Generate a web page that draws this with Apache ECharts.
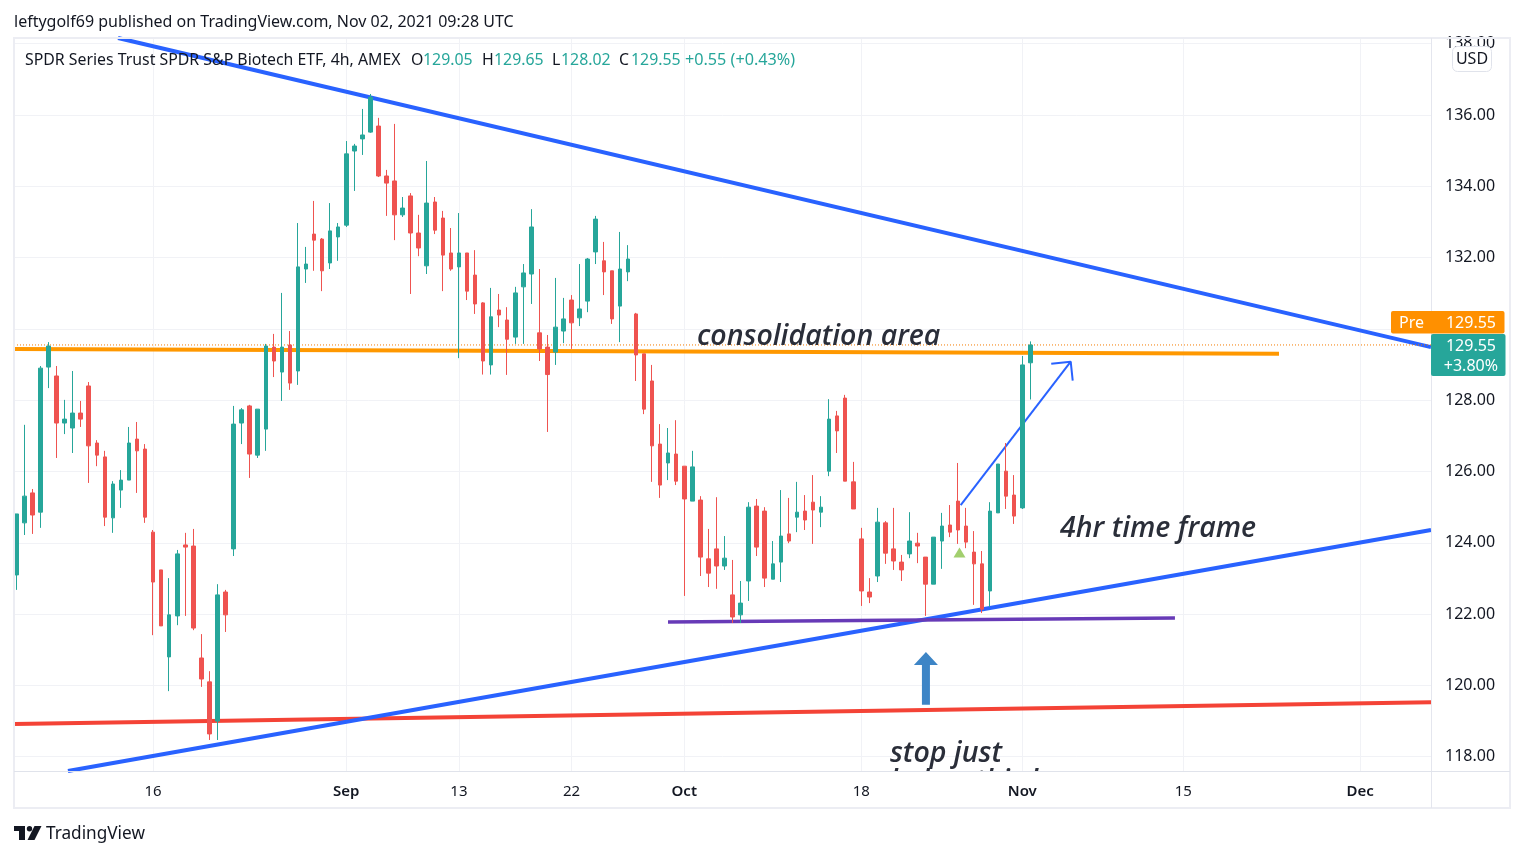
<!DOCTYPE html>
<html>
<head>
<meta charset="utf-8">
<title>XBI 4h</title>
<script src="https://cdn.jsdelivr.net/npm/echarts@6/dist/echarts.min.js"></script>
<style>
	html,body{margin:0;padding:0;background:#fff;}
	#chart{width:1524px;height:857px;}
</style>
</head>
<body>
<div id="chart"></div>
<script>
//candles
var opens = [123.10,124.56,125.40,124.86,128.93,128.68,127.36,127.22,127.64,128.40,126.80,126.41,124.70,125.48,125.76,126.91,126.63,124.30,123.24,120.80,121.95,123.94,123.91,120.77,120.10,119.00,122.62,123.83,127.36,127.84,126.46,127.19,
	129.49,128.79,129.55,128.82,131.68,132.66,132.52,131.85,132.58,132.91,134.99,135.33,135.52,135.69,134.29,134.15,133.20,133.73,132.69,131.77,133.56,133.11,132.13,131.74,132.13,131.51,130.73,128.99,130.53,130.25,129.77,131.18,131.54,
	129.89,129.49,129.35,129.94,130.81,130.31,130.78,132.16,131.91,131.63,130.64,131.60,130.42,129.30,128.54,126.77,126.24,126.49,126.15,125.17,125.20,123.55,123.83,123.35,122.54,121.98,122.93,125.03,124.89,122.98,123.46,124.25,124.72,
	124.89,125.14,124.86,126.01,127.56,128.06,125.71,124.11,122.62,123.07,124.56,123.83,123.46,123.69,123.99,123.60,122.84,124.05,124.50,125.17,124.47,123.74,123.41,122.65,124.84,126.01,125.34,124.98,129.05];
var closes = [124.81,125.31,124.78,128.90,129.52,127.36,127.47,127.64,127.47,126.72,126.46,124.72,125.65,125.76,126.80,126.58,124.72,122.90,121.67,121.98,123.69,123.88,121.61,120.18,118.64,122.54,121.98,127.33,127.73,126.49,127.75,129.52,
	129.10,129.49,128.48,131.74,131.82,132.49,131.63,132.75,132.86,134.91,135.13,135.44,136.50,134.29,134.09,133.20,133.39,132.69,132.27,133.53,132.77,132.07,131.68,132.13,131.06,130.70,129.10,130.34,130.39,129.71,131.01,131.57,132.86,
	129.44,128.72,130.05,130.28,130.17,130.56,131.96,133.08,131.60,130.28,131.68,131.96,129.27,127.75,126.72,125.62,126.52,125.73,125.23,126.13,123.60,123.15,123.35,123.57,121.92,122.31,125.00,123.88,123.01,123.41,124.19,124.05,124.86,
	124.64,124.92,125.00,127.47,127.14,125.73,124.95,122.65,122.48,124.58,123.71,123.49,123.24,124.05,123.91,122.84,124.16,124.47,124.30,124.36,124.02,123.41,122.14,124.89,126.21,125.31,124.75,128.99,129.55];
var lows = [122.68,124.22,124.25,124.42,128.34,126.38,127.05,126.52,127.25,125.68,126.15,124.47,124.28,124.98,125.76,125.40,124.56,121.41,121.67,119.84,121.69,121.95,121.55,119.96,118.47,118.47,121.50,123.63,126.77,125.82,126.38,126.58,
	128.65,127.98,128.29,128.43,131.29,131.63,131.06,131.68,131.91,132.86,133.87,134.88,135.50,134.26,133.17,132.49,133.14,130.98,132.04,131.54,132.66,131.06,131.63,129.18,130.81,130.42,128.72,128.72,130.05,128.71,129.58,129.58,130.70,
	129.10,127.11,128.99,129.60,129.44,130.08,130.47,131.82,130.95,130.14,129.63,131.34,128.54,127.61,125.71,125.26,125.76,125.62,122.51,125.17,123.07,122.76,122.71,123.24,121.75,121.75,122.37,123.63,122.76,122.98,122.90,123.99,124.30,
	124.36,123.97,124.44,125.87,126.52,125.73,124.95,122.23,122.31,122.90,123.41,123.24,122.93,123.57,123.43,121.95,122.84,123.27,124.16,123.97,123.85,122.26,122.03,122.20,124.84,124.95,124.53,124.95,128.02];
var highs = [124.81,127.31,125.51,128.96,129.63,128.96,128.01,128.82,127.98,128.51,126.88,126.58,125.73,126.04,127.25,127.39,126.77,124.36,123.24,123.01,123.80,124.28,124.39,121.44,120.40,122.84,122.68,127.84,127.78,127.87,127.75,129.58,
	129.86,131.01,129.94,132.97,132.30,133.59,132.55,133.53,132.97,135.27,135.19,136.17,136.59,135.92,134.46,135.75,133.70,133.81,133.20,134.71,133.70,133.31,132.83,133.25,132.13,132.21,130.75,131.15,130.98,130.61,131.18,131.82,133.36,
	131.68,129.83,131.43,130.87,130.95,131.82,131.99,133.17,132.44,131.63,132.72,132.35,130.45,129.30,128.99,127.33,127.22,127.44,126.15,126.58,125.31,124.39,125.28,124.19,123.52,122.93,125.14,125.23,125.00,124.05,125.48,125.26,125.71,
	125.34,125.90,125.31,128.03,127.70,128.15,126.27,124.42,123.01,124.98,124.61,124.98,123.66,124.86,124.28,123.60,124.16,124.84,125.06,126.24,124.98,124.33,123.77,125.14,126.21,126.80,125.90,129.24,129.65];

//time axis: bar index of each label
var timeTicks = [17,41,55,69,83,105,125,145,167];
var timeLabels = ["16","Sep","13","22","Oct","18","Nov","15","Dec"];
var priceTicks = [118,120,122,124,126,128,130,132,134,136,138];
var lastPrice = 129.55;

//drawings, x in bars and y in price
var fallingX = [12.64,175.79], fallingY = [138.16,129.49];
var risingX = [6.42,175.79], risingY = [117.60,124.36];
var redX = [-0.29,175.79], redY = [118.92,119.53];
var orangeX = [-0.29,156.9], orangeY = [129.44,129.30];
var purpleX = [80.98,143.97], purpleY = [121.78,121.89];
var arrowX = [117.35,131.02], arrowY = [125.06,129.08];
var arrowHeadX = [128.6,131.02,131.27], arrowHeadY = [129.02,129.08,128.55];
var markX = [117.2], markY = [123.73];
var bigArrowX = [113.03], bigArrowBase = [119.46], bigArrowTip = [120.94];
var noteTexts = ["consolidation area","4hr time frame","stop just\nbelow this low"];
var noteX = [84.58,129.7,108.56];
var noteY = [130.17,124.79,118.46];

//legend row
var legendName = "SPDR Series Trust SPDR S&P Biotech ETF, 4h, AMEX";
var legendKeys = ["O","H","L","C"];
var legendValues = ["129.05","129.65","128.02","129.55"];
var legendChange = "+0.55 (+0.43%)";

var minX = -0.286, maxX = 175.79;
var minY = 117.6, maxY = 138.16;
var upColor = "#26a69a", downColor = "#ef5350";
var textFont = "Noto Sans";

var candles = [];
for(var i = 0; i < opens.length; i++){
	candles.push([i,opens[i],closes[i],lows[i],highs[i]]);
}

function trendLine(xs,ys,color,width,type){
	var points = [];
	xs.forEach(function(x,k){
		points.push([x,ys[k]]);
	});
	return {
		type:"line",
		data:points,
		symbol:"none",
		silent:true,
		z:2,
		lineStyle:{color:color,width:width,type:type || "solid",cap:"butt"}
	};
}

function chromeText(text,x,y,color,size,align){
	return {
		type:"text",
		z:50,
		silent:true,
		style:{text:text,x:x,y:y,fill:color,font:size + "px '" + textFont + "'",textAlign:align || "left",textVerticalAlign:"middle"}
	};
}

var graphics = [
	//outer frame and the pane edges
	{type:"rect",z:40,silent:true,shape:{x:14,y:38,width:1496,height:770},style:{fill:"none",stroke:"#eceDf3",lineWidth:2}},
	{type:"line",z:40,silent:true,shape:{x1:1431.5,y1:38,x2:1431.5,y2:808},style:{stroke:"#e4e6ee",lineWidth:1}},
	{type:"line",z:40,silent:true,shape:{x1:14,y1:771.5,x2:1510,y2:771.5},style:{stroke:"#e0e3eb",lineWidth:1}},
	chromeText("leftygolf69 published on TradingView.com, Nov 02, 2021 09:28 UTC",14,22,"#131722",16),
	chromeText(legendName,25,60.5,"#131722",15.85),
	chromeText(legendKeys[0],411,60.5,"#131722",15.85),
	chromeText(legendValues[0],423,60.5,upColor,15.85),
	chromeText(legendKeys[1],482,60.5,"#131722",15.85),
	chromeText(legendValues[1],494,60.5,upColor,15.85),
	chromeText(legendKeys[2],552,60.5,"#131722",15.85),
	chromeText(legendValues[2],561,60.5,upColor,15.85),
	chromeText(legendKeys[3],619,60.5,"#131722",15.85),
	chromeText(legendValues[3],631,60.5,upColor,15.85),
	chromeText(legendChange,685,60.5,upColor,16.2),
	//USD box
	{type:"rect",z:45,silent:true,shape:{x:1452.5,y:46.5,width:39,height:25,r:5},style:{fill:"#fff",stroke:"#e0e3eb",lineWidth:1}},
	chromeText("USD",1472,59.5,"#131722",16,"center"),
	//price tags
	{type:"rect",z:45,silent:true,shape:{x:1391,y:311,width:113.5,height:22.5,r:2},style:{fill:"#ff9000"}},
	chromeText("Pre",1399,323.5,"#fff",16),
	chromeText(lastPrice.toFixed(2),1496,323.5,"#fff",16,"right"),
	{type:"rect",z:45,silent:true,shape:{x:1431,y:334,width:74.5,height:42,r:2},style:{fill:upColor}},
	chromeText(lastPrice.toFixed(2),1496,346,"#fff",16,"right"),
	chromeText("+3.80%",1498,366,"#fff",16,"right"),
	//logo
	{type:"polygon",z:50,silent:true,shape:{points:[[14,826],[25,826],[25,840],[19,840],[19,831],[14,831]]},style:{fill:"#131722"}},
	{type:"circle",z:50,silent:true,shape:{cx:29.5,cy:828.7,r:2.7},style:{fill:"#131722"}},
	{type:"polygon",z:50,silent:true,shape:{points:[[34.5,826],[41.5,826],[34.5,840],[27.5,840]]},style:{fill:"#131722"}},
	chromeText("TradingView",46,834,"#131722",17.2)
];

var myChart = echarts.init(document.getElementById("chart"));
var option = {
	animation:false,
	backgroundColor:"#fff",
	grid:{left:14,right:93,top:38,bottom:86},
	xAxis:{
		type:"value",
		min:minX,
		max:maxX,
		axisLine:{show:false},
		axisTick:{show:false,customValues:timeTicks},
		splitLine:{show:true,lineStyle:{color:"#f1f2f6",width:1}},
		axisLabel:{
			customValues:timeTicks,
			margin:13,
			fontFamily:textFont,
			fontSize:15,
			color:"#131722",
			hideOverlap:false,
			formatter:function(value){
				var label = timeLabels[timeTicks.indexOf(value)];
				return isNaN(label) ? "{m|" + label + "}" : label;
			},
			rich:{m:{fontFamily:textFont,fontSize:15,fontWeight:600,color:"#131722"}}
		}
	},
	yAxis:{
		type:"value",
		position:"right",
		min:minY,
		max:maxY,
		scale:true,
		axisLine:{show:false},
		axisTick:{show:false,customValues:priceTicks},
		splitLine:{show:true,lineStyle:{color:"#f1f2f6",width:1}},
		axisLabel:{
			customValues:priceTicks,
			margin:14,
			padding:[5,0,0,0],
			fontFamily:textFont,
			fontSize:16,
			color:"#131722",
			showMinLabel:true,
			showMaxLabel:true,
			formatter:function(value){
				return value.toFixed(2);
			}
		}
	},
	graphic:graphics,
	series:[
		trendLine(redX,redY,"#f44336",4),
		trendLine(fallingX,fallingY,"#2962ff",4),
		trendLine(risingX,risingY,"#2962ff",4),
		trendLine(orangeX,orangeY,"#ff9800",4),
		trendLine(purpleX,purpleY,"#673ab7",3.5),
		trendLine(arrowX,arrowY,"#2962ff",2),
		trendLine(arrowHeadX,arrowHeadY,"#2962ff",2),
		trendLine([minX,maxX],[lastPrice,lastPrice],"#f57c00",1,[1,2]),
		{
			type:"candlestick",
			data:candles,
			barWidth:4,
			clip:true,
			silent:true,
			z:3,
			itemStyle:{
				color:upColor,
				color0:downColor,
				borderColor:upColor,
				borderColor0:downColor,
				borderWidth:1
			}
		},
		{
			type:"scatter",
			data:[[markX[0],markY[0]]],
			symbol:"triangle",
			symbolSize:[12,10],
			silent:true,
			z:4,
			itemStyle:{color:"#8bc34a"}
		},
		{
			//the big arrow under the purple line
			type:"custom",
			silent:true,
			z:4,
			data:[[bigArrowX[0],bigArrowBase[0],bigArrowTip[0]]],
			renderItem:function(params,api){
				var base = api.coord([api.value(0),api.value(1)]);
				var tip = api.coord([api.value(0),api.value(2)]);
				var x = base[0];
				return {
					type:"polygon",
					shape:{points:[[x-4,base[1]],[x-4,tip[1]+13],[x-12,tip[1]+13],[x,tip[1]],[x+12,tip[1]+13],[x+4,tip[1]+13],[x+4,base[1]]]},
					style:{fill:"#3d85c6"}
				};
			}
		},
		{
			//notes are cut at the pane edge like the other drawings
			type:"custom",
			silent:true,
			clip:true,
			z:5,
			data:noteTexts.map(function(t,k){
				return [noteX[k],noteY[k],k];
			}),
			renderItem:function(params,api){
				var point = api.coord([api.value(0),api.value(1)]);
				return {
					type:"text",
					style:{
						text:noteTexts[api.value(2)],
						x:point[0],
						y:point[1],
						fill:"#2a2e39",
						font:"italic 600 28.5px 'Open Sans'",
						lineHeight:28,
						textVerticalAlign:"top"
					}
				};
			}
		}
	]
};
myChart.setOption(option);
</script>
</body>
</html>
